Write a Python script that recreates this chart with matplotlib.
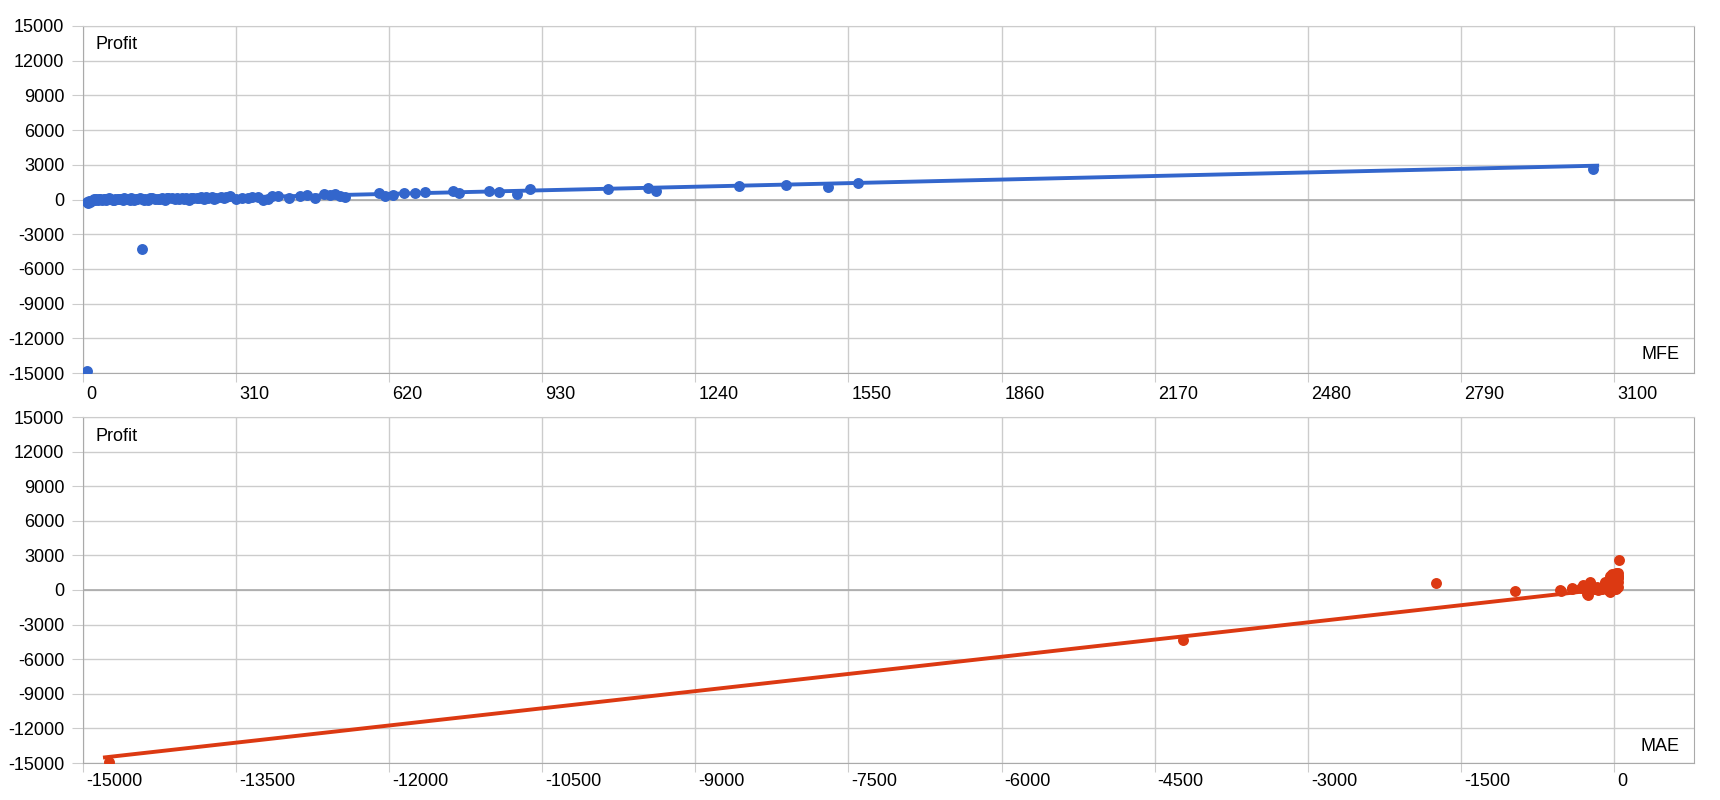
import numpy as np
import matplotlib.pyplot as plt
import matplotlib.transforms as mtransforms

plt.rcParams['font.family'] = ['Liberation Sans', 'DejaVu Sans']
plt.rcParams['font.size'] = 13
plt.rcParams['axes.unicode_minus'] = False

BLUE = '#3366cc'
RED = '#dc3912'

# MFE vs Profit (top panel)
mfe_x = [8, 11, 14, 17, 20, 24, 27, 30, 34, 38,
         42, 46, 50, 55, 60, 65, 70, 75, 80, 86,
         92, 98, 104, 110, 116, 120, 126, 132, 140, 146,
         152, 160, 166, 172, 180, 186, 194, 200, 208, 214,
         222, 230, 238, 246, 254, 262, 270, 280, 290,
         321, 342, 365, 383, 418, 454, 470, 487, 510, 530,
         600, 611, 628, 650, 673, 692, 750, 762, 823, 843,
         878, 905, 1064, 1145, 1161, 1329, 1423, 1508, 1570, 3057,
         9, 120,
         13, 22, 32, 44, 52, 63, 72, 83, 95, 107,
         123, 136, 156, 170, 190, 204, 218, 234, 250, 266,
         285, 298, 310, 335, 355, 375, 395, 440, 500, 520]
mfe_profit = [-250, -330, -180, -120, -60, -20, 10, -40, 30, 0,
              50, -30, 20, 60, -10, 40, 80, 10, -50, 60,
              30, 90, -40, 50, 100, 20, 70, -60, 110, 40,
              80, 130, -20, 90, 150, 60, 20, 120, 170, -10,
              90, 140, 200, 60, 160, 220, 100, 180, 230,
              100, 245, -40, 330, 160, 390, 160, 450, 500, 190,
              590, 300, 360, 590, 590, 650, 760, 530, 760, 680,
              450, 880, 905, 965, 760, 1167, 1282, 1110, 1400, 2640,
              -14826, -4280,
              -100, 40, 70, 10, 100, -40, 50, 120, 0, 80,
              -20, 140, 30, 170, 110, 40, 150, 90, 200, 30,
              120, 260, 60, 150, 220, 80, 280, 300, 350, 260]
mfe_trend_x = [5, 3066]
mfe_trend_y = [-125, 2925]

# MAE vs Profit (bottom panel)
mae_x = [-14742, -4220, -1747, -970, -529, -519, -408, -408, -300, -284,
         -261, -251, -235, -235, -200, -170, -153, -130, -110, -88,
         -88, -70, -60, -45, -40, -30, -23, -20, -15, -10,
         -5, 0, 0, 5, 10, 15, 20, 20, 25, 30,
         35, 42, 49, -120, -100, -60, -30, 0, 10, 30,
         40, -5, 15, 20, 30, 40, 40, 25, -180, -140,
         -75, -50, -35, -12, 8, 18, 28, 38, -320, -270]
mae_profit = [-14890, -4335, 580, -87, 0, -60, 145, 60, 430, 290,
              -370, -430, 720, 630, 100, 250, 0, 50, 300, 720,
              630, 200, 500, 900, -150, 1000, 1360, 400, 1100, 600,
              800, 1200, 300, 1300, 700, 150, 1440, 290, 1000, 500,
              1200, 1440, 2600, 80, 150, 30, 80, 60, 400, 900,
              1100, 1100, 1300, 100, 400, 700, 1000, 1300, 60, 120,
              350, 700, 1200, 950, 550, 850, 1150, 250, 150, 100]
mae_trend_x = [-14785, 30]
mae_trend_y = [-14512, 200]

y_ticks = [-15000, -12000, -9000, -6000, -3000, 0, 3000, 6000, 9000, 12000, 15000]
mfe_ticks = [0, 310, 620, 930, 1240, 1550, 1860, 2170, 2480, 2790, 3100]
mae_ticks = [-15000, -13500, -12000, -10500, -9000, -7500, -6000, -4500, -3000, -1500, 0]


def style_axis(ax, xticks, xlim, xpad):
    ax.set_xlim(*xlim)
    ax.set_ylim(-15000, 15000)
    ax.set_yticks(y_ticks)
    ax.set_xticks(xticks)
    ax.set_xticklabels([str(t) for t in xticks])
    ax.grid(True, color='#cccccc', lw=1, zorder=0)
    ax.set_axisbelow(True)
    ax.axhline(0, color='#aaaaaa', lw=1.2, zorder=1)
    for side in ['left', 'bottom', 'right']:
        ax.spines[side].set_color('#aaaaaa')
    ax.spines['top'].set_color('#cccccc')
    ax.tick_params(axis='y', length=8, color='#cccccc', pad=5.5)
    ax.tick_params(axis='x', length=6.5, color='#cccccc', pad=xpad)
    offset = mtransforms.ScaledTranslation(3 / 100, 0, ax.figure.dpi_scale_trans)
    for lab in ax.get_xticklabels():
        lab.set_ha('left')
        lab.set_transform(lab.get_transform() + offset)


fig = plt.figure(figsize=(17.2, 8), dpi=100)
ax1 = fig.add_axes([83 / 1720, 427 / 800, 1611 / 1720, 347 / 800])
ax2 = fig.add_axes([83 / 1720, 37 / 800, 1611 / 1720, 346 / 800])

ax1.plot(mfe_trend_x, mfe_trend_y, color=BLUE, lw=2.8, zorder=2)
ax1.scatter(mfe_x, mfe_profit, s=62, color=BLUE, zorder=3, linewidths=0)
style_axis(ax1, mfe_ticks, (0, 3262), 2.5)
ax1.text(0.008, 0.948, 'Profit', transform=ax1.transAxes, va='center', ha='left')
ax1.text(0.9907, 0.052, 'MFE', transform=ax1.transAxes, va='center', ha='right')

ax2.plot(mae_trend_x, mae_trend_y, color=RED, lw=2.8, zorder=2)
ax2.scatter(mae_x, mae_profit, s=62, color=RED, zorder=3, linewidths=0)
style_axis(ax2, mae_ticks, (-15000, 784), 1.0)
ax2.text(0.008, 0.945, 'Profit', transform=ax2.transAxes, va='center', ha='left')
ax2.text(0.9907, 0.049, 'MAE', transform=ax2.transAxes, va='center', ha='right')

fig.savefig('out.png', dpi=100)
